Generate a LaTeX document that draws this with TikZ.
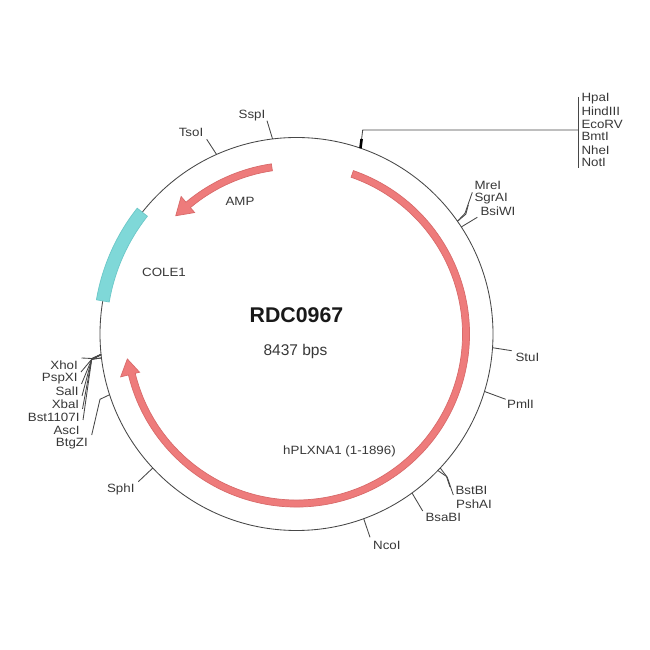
\documentclass[tikz,border=0pt]{standalone}
\usepackage{fontspec}
\usetikzlibrary{calc}
\setmainfont{Liberation Sans}
\newfontfamily\sitefont[FakeStretch=1.11]{Liberation Sans}
\tikzset{
  lab/.style={inner sep=0.5pt,outer sep=0pt,text=black!78,font=\sitefont\fontsize{12}{12}\selectfont},
  wlab/.style={lab,anchor=west},
  elab/.style={lab,anchor=east},
  leader/.style={draw=black!72,line width=0.85pt,line join=round},
  redarc/.style={fill=red1,draw=red2,line width=0.7pt,line join=miter},
  tealarc/.style={fill=teal1,draw=teal2,line width=0.7pt}
}
\definecolor{red1}{HTML}{EE7B7B}
\definecolor{red2}{HTML}{D86A6A}
\definecolor{teal1}{HTML}{7FD8D8}
\definecolor{teal2}{HTML}{6CC8C8}
\begin{document}
\begin{tikzpicture}[x=1pt,y=1pt]
\useasboundingbox (0,0) rectangle (650,650);
\fill[white] (0,0) rectangle (650,650);
\coordinate (c) at (296.5,316);
\node[circle,draw=black!72,line width=0.85pt,minimum size=393pt,inner sep=0pt,outer sep=0pt] (p) at (c) {};
% features
\begin{scope}[shift={(c)}]
\path[redarc] (70.8:173) arc (70.8:-166.3:173) -- (-166.3:181) -- (-171.6:171) -- (-166.3:161.5) -- (-166.3:166) arc (-166.3:70.8:166) -- cycle;
\path[redarc] (98.4:172) arc (98.4:130:172) -- (130:179.5) -- (135.6:169) -- (130:158.5) -- (130:165) arc (130:98.4:165) -- cycle;
\path[tealarc] (141.7:203) arc (141.7:170.3:203) -- (170.3:190) arc (170.3:141.7:190) -- cycle;
\end{scope}
% feature and centre labels
\node[lab,text=black!90,font=\bfseries\fontsize{21.3}{21.3}\selectfont] (title) at (296.5,335) {RDC0967};
\node[lab,font=\fontsize{15.5}{15.5}\selectfont] (size) at (295.5,299) {8437 bps};
\node[lab] (amp) at (240,448.5) {AMP};
\node[lab] (cole) at (164,377.3) {COLE1};
\node[lab] (plx) at (339.5,199) {hPLXNA1 (1-1896)};
% single sites
\node[lab] (tso) at (191,517.3) {TsoI};
\node[lab] (ssp) at (252,534.3) {SspI};
\node[wlab] (mre) at (474,465) {MreI};
\node[wlab] (sgr) at (474,451.7) {SgrAI};
\node[wlab] (bsi) at (480,438.3) {BsiWI};
\node[wlab] (stu) at (515,292.7) {StuI};
\node[wlab] (pml) at (506.7,245.7) {PmlI};
\node[wlab] (bst) at (455,159.3) {BstBI};
\node[wlab] (psh) at (455.7,146) {PshAI};
\node[wlab] (bsa) at (425,132.3) {BsaBI};
\node[wlab] (nco) at (372.7,104.3) {NcoI};
\node[elab] (sph) at (135,161) {SphI};
% top group
\node[wlab] (hpa) at (581,551.7) {HpaI};
\node[wlab] (hin) at (581,539) {HindIII};
\node[wlab] (eco) at (581,526) {EcoRV};
\node[wlab] (bmt) at (581,513.3) {BmtI};
\node[wlab] (nhe) at (581,500) {NheI};
\node[wlab] (not) at (581,487.3) {NotI};
% left group
\node[elab] (xho) at (78.3,284.3) {XhoI};
\node[elab] (psp) at (78,271.7) {PspXI};
\node[elab] (sal) at (79,258.3) {SalI};
\node[elab] (xba) at (79.7,246) {XbaI};
\node[elab] (bs1) at (80,232.7) {Bst1107I};
\node[elab] (asc) at (80,219.3) {AscI};
\node[elab] (btg) at (88.3,206.7) {BtgZI};
% bends and free ends
\coordinate (topB) at (362.7,520);
\coordinate (busM) at (578.3,520);
\coordinate (busT) at (578.3,553);
\coordinate (busB) at (578.3,481.5);
\coordinate (mreB) at (465,436.7);
\coordinate (sgrB) at (465.8,435.8);
\coordinate (bstB) at (447.3,172.7);
\coordinate (pshB) at (446.5,173.5);
\coordinate (lB1) at (91.7,291.5);
\coordinate (lB2) at (91.7,290.7);
\coordinate (btgB) at (100,250.7);
% connectors
\draw[leader] (p.97.8) -- (267,529.3);
\draw[leader] (p.114.7) -- (206.7,510.7);
\draw[leader] (p.71.6) -- (topB) -- (busM);
\draw[leader] (busT) -- (busB);
\draw[black,line width=2.6pt] (p.71.6) -- ($(p.71.6)!0.5!(topB)$);
\draw[leader] (p.35.8) -- (mreB) -- (472.3,457.7);
\draw[leader] (p.35.5) -- (sgrB) -- (468.3,445);
\draw[leader] (p.33.3) -- (477.3,432.7);
\draw[leader] (p.-4.2) -- (511.7,299.3);
\draw[leader] (p.-17) -- (505.7,250.7);
\draw[leader] (p.-43.9) -- (bstB) -- (453.3,155);
\draw[leader] (p.-44.2) -- (pshB) -- (450,163);
\draw[leader] (p.-54.4) -- (422.7,139);
\draw[leader] (p.-70) -- (370,112.7);
\draw[leader] (p.-137.2) -- (138.3,168.3);
\draw[leader] (p.186.7) -- (lB1) -- (81.5,292);
\draw[leader] (p.186.7) -- (lB2) -- (81,278);
\draw[leader] (p.186.8) -- (lB2) -- (81.5,266);
\draw[leader] (p.186.9) -- (lB2) -- (82,254);
\draw[leader] (p.187) -- (lB2) -- (82.5,241);
\draw[leader] (p.187.1) -- (lB2) -- (83,230);
\draw[leader,line width=1.6pt] (p.186.9) -- (lB2);
\draw[leader] (p.198.3) -- (btgB) -- (91.7,215);
\end{tikzpicture}
\end{document}
